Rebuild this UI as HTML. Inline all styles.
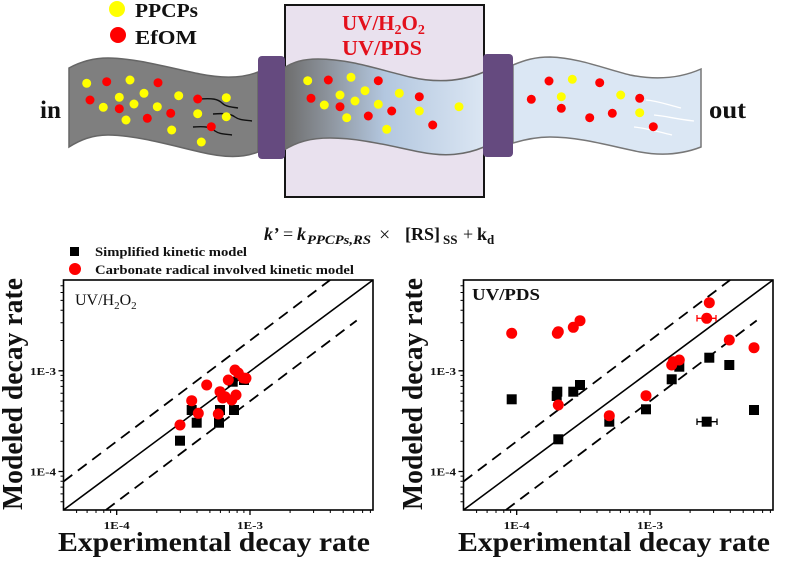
<!DOCTYPE html>
<html>
<head>
<meta charset="utf-8">
<style>
html,body{margin:0;padding:0;background:#fff;}
svg{display:block;}
text{font-family:"Liberation Serif",serif;}
</style>
</head>
<body>
<svg width="788" height="562" viewBox="0 0 788 562" xmlns="http://www.w3.org/2000/svg">
<defs>
<linearGradient id="g" x1="285" y1="0" x2="484" y2="0" gradientUnits="userSpaceOnUse">
<stop offset="0" stop-color="#6e6e6e"/>
<stop offset="0.22" stop-color="#8d949d"/>
<stop offset="0.5" stop-color="#b3c7df"/>
<stop offset="1" stop-color="#dbe6f3"/>
</linearGradient>
</defs>
<rect width="788" height="562" fill="#fff"/>

<!-- reactor box -->
<rect x="285" y="5" width="199" height="192" fill="#e9e1ee" stroke="#151515" stroke-width="2"/>

<!-- pipes -->
<path d="M69,68 C80,62 92,58 108,58 C135,58 170,68 200,74 C225,79 243,78 258,72 L258,152 C243,158 225,158 200,152 C170,145 135,135 108,135 C92,135 80,140 69,147 Z" fill="#7f7f7f" stroke="#666" stroke-width="1.5"/>
<path d="M284,68 C293,62 303,59 318,59 C350,59 380,70 410,77 C440,84 465,80 484,72 L484,147 C465,155 445,157 420,152 C390,146 360,138 330,138 C310,138 297,142 284,150 Z" fill="url(#g)" stroke="#6a6a6a" stroke-width="1.5"/>
<path d="M513,65 C525,60 535,57 550,57 C580,58 605,69 630,75 C660,81 683,77 701,69 L701,147 C683,154 662,156 640,152 C610,146 580,137 550,137 C535,137 523,140 513,143 Z" fill="#dbe7f4" stroke="#777" stroke-width="1.5"/>

<!-- connectors -->
<rect x="258" y="56" width="27" height="103" rx="4" fill="#654a7f"/>
<rect x="483" y="54" width="30" height="103" rx="4" fill="#654a7f"/>

<!-- streaks -->
<g fill="none" stroke="#111" stroke-width="1.4">
<path d="M200,99 C212,98 218,99 222,103 C226,107 232,107 238,108"/>
<path d="M213,114 C225,113 231,114 235,117 C239,120 245,120 252,121"/>
<path d="M193,127 C205,126 211,127 215,131 C219,134 225,134 232,135"/>
</g>
<g fill="none" stroke="#fff" stroke-width="1.3">
<path d="M646,100 C658,101 665,104 681,108"/>
<path d="M654,115 C666,116 675,119 694,121"/>
<path d="M634,127 C646,128 655,131 672,135"/>
</g>

<!-- dots -->
<g fill="#ffff00">
<circle cx="86.7" cy="83.3" r="4.5"/><circle cx="130" cy="80" r="4.5"/><circle cx="119.3" cy="97.3" r="4.5"/><circle cx="144" cy="93.3" r="4.5"/><circle cx="134" cy="104" r="4.5"/><circle cx="103.3" cy="107.3" r="4.5"/><circle cx="157.3" cy="106.7" r="4.5"/><circle cx="126" cy="120" r="4.5"/><circle cx="178.7" cy="95.7" r="4.5"/><circle cx="171.7" cy="130" r="4.5"/><circle cx="197.7" cy="113.7" r="4.5"/><circle cx="226.3" cy="97.7" r="4.5"/><circle cx="226.3" cy="116.7" r="4.5"/><circle cx="201.3" cy="142" r="4.5"/>
<circle cx="307.7" cy="80.7" r="4.5"/><circle cx="351" cy="77.3" r="4.5"/><circle cx="340" cy="95" r="4.5"/><circle cx="365" cy="90.7" r="4.5"/><circle cx="355" cy="101" r="4.5"/><circle cx="324.3" cy="105" r="4.5"/><circle cx="378.3" cy="104.3" r="4.5"/><circle cx="346.7" cy="117.7" r="4.5"/><circle cx="399.3" cy="93.3" r="4.5"/><circle cx="419.3" cy="111" r="4.5"/><circle cx="386.7" cy="129.3" r="4.5"/><circle cx="459" cy="106.7" r="4.5"/>
<circle cx="572.3" cy="79.3" r="4.5"/><circle cx="561.3" cy="96.7" r="4.5"/><circle cx="620.7" cy="95" r="4.5"/><circle cx="639.7" cy="112.7" r="4.5"/>
</g>
<g fill="#ff0000">
<circle cx="106.7" cy="81.7" r="4.5"/><circle cx="158" cy="82.7" r="4.5"/><circle cx="90" cy="100" r="4.5"/><circle cx="119.3" cy="108.7" r="4.5"/><circle cx="147.3" cy="118.3" r="4.5"/><circle cx="170.7" cy="113.3" r="4.5"/><circle cx="197.7" cy="99" r="4.5"/><circle cx="211.3" cy="126.7" r="4.5"/>
<circle cx="328.3" cy="80" r="4.5"/><circle cx="378.3" cy="80.7" r="4.5"/><circle cx="311" cy="98.3" r="4.5"/><circle cx="340" cy="106.7" r="4.5"/><circle cx="368.3" cy="116" r="4.5"/><circle cx="391.7" cy="111" r="4.5"/><circle cx="419.3" cy="96.7" r="4.5"/><circle cx="432.7" cy="125" r="4.5"/>
<circle cx="549" cy="81" r="4.5"/><circle cx="599.7" cy="82.7" r="4.5"/><circle cx="531.3" cy="99.3" r="4.5"/><circle cx="561.3" cy="108.3" r="4.5"/><circle cx="589.7" cy="117.7" r="4.5"/><circle cx="612.3" cy="113.3" r="4.5"/><circle cx="639.7" cy="98.3" r="4.5"/><circle cx="653.3" cy="126.7" r="4.5"/>
</g>

<!-- top legend -->
<circle cx="117" cy="9" r="8" fill="#ffff00"/>
<circle cx="118" cy="35" r="8" fill="#ff0000"/>
<text x="135" y="17" font-size="20" font-weight="bold" fill="#111" textLength="63" lengthAdjust="spacingAndGlyphs">PPCPs</text>
<text x="135" y="44" font-size="20" font-weight="bold" fill="#111" textLength="62" lengthAdjust="spacingAndGlyphs">EfOM</text>
<text x="40" y="118" font-size="25" font-weight="bold" fill="#111" textLength="21" lengthAdjust="spacingAndGlyphs">in</text>
<text x="709" y="118" font-size="25" font-weight="bold" fill="#111" textLength="37" lengthAdjust="spacingAndGlyphs">out</text>

<!-- reactor labels -->
<text x="342" y="30" font-size="21" font-weight="bold" fill="#e3101c">UV/H<tspan font-size="14" dy="4">2</tspan><tspan dy="-4">O</tspan><tspan font-size="14" dy="4">2</tspan></text>
<text x="342" y="55" font-size="21" font-weight="bold" fill="#e3101c" textLength="80" lengthAdjust="spacingAndGlyphs">UV/PDS</text>

<!-- formula -->
<g font-weight="bold" fill="#111">
<text x="264" y="240" font-size="18" font-style="italic">k’</text>
<text x="283" y="240" font-size="18" font-weight="normal">=</text>
<text x="297" y="240" font-size="18" font-style="italic">k</text>
<text x="307" y="244" font-size="13" font-style="italic" textLength="64" lengthAdjust="spacingAndGlyphs">PPCPs,RS</text>
<text x="379" y="241" font-size="20" font-weight="normal">×</text>
<text x="405" y="240" font-size="18">[RS]</text>
<text x="443" y="244" font-size="13">SS</text>
<text x="463" y="240" font-size="18" font-weight="normal">+</text>
<text x="477" y="240" font-size="18">k</text>
<text x="487" y="244" font-size="13">d</text>
</g>

<!-- plot legend -->
<rect x="70" y="247" width="9" height="9" fill="#000"/>
<circle cx="75" cy="269" r="6" fill="#ff0000"/>
<text x="95" y="256" font-size="13" font-weight="bold" fill="#111" textLength="152" lengthAdjust="spacingAndGlyphs">Simplified kinetic model</text>
<text x="95" y="274" font-size="13" font-weight="bold" fill="#111" textLength="259" lengthAdjust="spacingAndGlyphs">Carbonate radical involved kinetic model</text>

<!-- LEFT PLOT -->
<g>
<rect x="63.5" y="280" width="309.5" height="230" fill="none" stroke="#000" stroke-width="1.6"/>
<path d="M116.7,510v5M250,510v5M63.5,471.5h-5M63.5,370.8h-5" stroke="#000" stroke-width="1.3"/>
<path d="M76.6,510v3M87.1,510v3M96,510v3M103.8,510v3M110.6,510v3M156.8,510v3M180.3,510v3M197,510v3M209.9,510v3M220.4,510v3M229.3,510v3M237.1,510v3M243.9,510v3M290.1,510v3M313.6,510v3M330.3,510v3M343.2,510v3M353.7,510v3M362.6,510v3M370.4,510v3M63.5,501.8h-3M63.5,493.9h-3M63.5,487.1h-3M63.5,481.3h-3M63.5,476.1h-3M63.5,441.2h-3M63.5,423.5h-3M63.5,410.9h-3M63.5,401.1h-3M63.5,393.2h-3M63.5,386.4h-3M63.5,380.6h-3M63.5,375.4h-3M63.5,340.5h-3M63.5,322.8h-3M63.5,310.2h-3M63.5,300.4h-3M63.5,292.5h-3M63.5,285.7h-3" stroke="#000" stroke-width="1"/>
<line x1="63.5" y1="510" x2="373" y2="280" stroke="#000" stroke-width="1.6"/>
<line x1="63.5" y1="481.5" x2="330.1" y2="280" stroke="#000" stroke-width="1.8" stroke-dasharray="11 7"/>
<line x1="105.9" y1="510" x2="356.7" y2="320.5" stroke="#000" stroke-width="1.8" stroke-dasharray="11 7"/>
</g>
<g fill="#000">
<rect x="175" y="435.7" width="10" height="10"/><rect x="186.7" y="405" width="10" height="10"/><rect x="191.7" y="417.7" width="10" height="10"/><rect x="214" y="417.7" width="10" height="10"/><rect x="215" y="405" width="10" height="10"/><rect x="229" y="405" width="10" height="10"/><rect x="239" y="375" width="10" height="10"/><rect x="227.7" y="376.7" width="10" height="10"/>
</g>
<g fill="#ff0000">
<circle cx="180" cy="425" r="5.5"/><circle cx="191.7" cy="400.7" r="5.5"/><circle cx="198.3" cy="413.3" r="5.5"/><circle cx="206.7" cy="385" r="5.5"/><circle cx="218.3" cy="414" r="5.5"/><circle cx="220" cy="391.7" r="5.5"/><circle cx="222.7" cy="398" r="5.5"/><circle cx="228.3" cy="380" r="5.5"/><circle cx="231.7" cy="400" r="5.5"/><circle cx="236" cy="395" r="5.5"/><circle cx="235" cy="370" r="5.5"/><circle cx="238.3" cy="373" r="5.5"/><circle cx="243.3" cy="378" r="5.5"/><circle cx="246" cy="378.3" r="5.5"/><circle cx="225" cy="396.7" r="5.5"/>
</g>
<text x="75" y="305" font-size="16" fill="#111">UV/H<tspan font-size="11" dy="4">2</tspan><tspan dy="-4">O</tspan><tspan font-size="11" dy="4">2</tspan></text>
<g font-size="11" font-weight="bold" fill="#111">
<text x="116.7" y="529" text-anchor="middle" textLength="26" lengthAdjust="spacingAndGlyphs">1E-4</text>
<text x="250" y="529" text-anchor="middle" textLength="26" lengthAdjust="spacingAndGlyphs">1E-3</text>
<text x="56" y="375" text-anchor="end" textLength="26" lengthAdjust="spacingAndGlyphs">1E-3</text>
<text x="56" y="475.5" text-anchor="end" textLength="26" lengthAdjust="spacingAndGlyphs">1E-4</text>
</g>
<text x="58" y="551" font-size="27" font-weight="bold" fill="#111" textLength="312" lengthAdjust="spacingAndGlyphs">Experimental decay rate</text>
<text transform="translate(22,394) rotate(-90)" x="0" y="0" text-anchor="middle" font-size="28" font-weight="bold" fill="#111" textLength="232" lengthAdjust="spacingAndGlyphs">Modeled decay rate</text>

<!-- RIGHT PLOT -->
<g transform="translate(400,0)">
<rect x="63.5" y="280" width="309.5" height="230" fill="none" stroke="#000" stroke-width="1.6"/>
<path d="M116.7,510v5M250,510v5M63.5,471.5h-5M63.5,370.8h-5" stroke="#000" stroke-width="1.3"/>
<path d="M76.6,510v3M87.1,510v3M96,510v3M103.8,510v3M110.6,510v3M156.8,510v3M180.3,510v3M197,510v3M209.9,510v3M220.4,510v3M229.3,510v3M237.1,510v3M243.9,510v3M290.1,510v3M313.6,510v3M330.3,510v3M343.2,510v3M353.7,510v3M362.6,510v3M370.4,510v3M63.5,501.8h-3M63.5,493.9h-3M63.5,487.1h-3M63.5,481.3h-3M63.5,476.1h-3M63.5,441.2h-3M63.5,423.5h-3M63.5,410.9h-3M63.5,401.1h-3M63.5,393.2h-3M63.5,386.4h-3M63.5,380.6h-3M63.5,375.4h-3M63.5,340.5h-3M63.5,322.8h-3M63.5,310.2h-3M63.5,300.4h-3M63.5,292.5h-3M63.5,285.7h-3" stroke="#000" stroke-width="1"/>
<line x1="63.5" y1="510" x2="373" y2="280" stroke="#000" stroke-width="1.6"/>
<line x1="63.5" y1="481.5" x2="330.1" y2="280" stroke="#000" stroke-width="1.8" stroke-dasharray="11 7"/>
<line x1="105.9" y1="510" x2="356.7" y2="320.5" stroke="#000" stroke-width="1.8" stroke-dasharray="11 7"/>
</g>
<!-- error bars -->
<path d="M697,421.7H717M697,418.5v6.5M717,418.5v6.5" stroke="#000" stroke-width="1.3"/>
<g fill="#000">
<rect x="506.7" y="394.3" width="10" height="10"/><rect x="552.3" y="386.7" width="10" height="10"/><rect x="551.7" y="391" width="10" height="10"/><rect x="568.3" y="386.7" width="10" height="10"/><rect x="575" y="380" width="10" height="10"/><rect x="553.3" y="434.3" width="10" height="10"/><rect x="604.3" y="416.7" width="10" height="10"/><rect x="641" y="404.3" width="10" height="10"/><rect x="666.7" y="374.3" width="10" height="10"/><rect x="674.3" y="361.7" width="10" height="10"/><rect x="704.3" y="352.7" width="10" height="10"/><rect x="701.7" y="416.7" width="10" height="10"/><rect x="724.3" y="360" width="10" height="10"/><rect x="749" y="405" width="10" height="10"/>
</g>
<path d="M697,318.3H716M697,315v6.5M716,315v6.5" stroke="#ff0000" stroke-width="1.3"/>
<g fill="#ff0000">
<circle cx="511.7" cy="333.3" r="5.5"/><circle cx="557.3" cy="333.3" r="5.5"/><circle cx="558.3" cy="331.7" r="5.5"/><circle cx="573.3" cy="327.3" r="5.5"/><circle cx="580" cy="320.7" r="5.5"/><circle cx="558.3" cy="405" r="5.5"/><circle cx="609.3" cy="415.7" r="5.5"/><circle cx="646" cy="395.7" r="5.5"/><circle cx="671.7" cy="365" r="5.5"/><circle cx="673.3" cy="361.7" r="5.5"/><circle cx="679.3" cy="360" r="5.5"/><circle cx="709.3" cy="302.7" r="5.5"/><circle cx="706.7" cy="318.3" r="5.5"/><circle cx="729.3" cy="340" r="5.5"/><circle cx="754" cy="347.7" r="5.5"/>
</g>
<text x="472" y="300" font-size="17" font-weight="bold" fill="#111" textLength="68" lengthAdjust="spacingAndGlyphs">UV/PDS</text>
<g font-size="11" font-weight="bold" fill="#111">
<text x="516.7" y="529" text-anchor="middle" textLength="26" lengthAdjust="spacingAndGlyphs">1E-4</text>
<text x="650" y="529" text-anchor="middle" textLength="26" lengthAdjust="spacingAndGlyphs">1E-3</text>
<text x="456" y="375" text-anchor="end" textLength="26" lengthAdjust="spacingAndGlyphs">1E-3</text>
<text x="456" y="475.5" text-anchor="end" textLength="26" lengthAdjust="spacingAndGlyphs">1E-4</text>
</g>
<text x="458" y="551" font-size="27" font-weight="bold" fill="#111" textLength="312" lengthAdjust="spacingAndGlyphs">Experimental decay rate</text>
<text transform="translate(422,394) rotate(-90)" x="0" y="0" text-anchor="middle" font-size="28" font-weight="bold" fill="#111" textLength="232" lengthAdjust="spacingAndGlyphs">Modeled decay rate</text>
</svg>
</body>
</html>
